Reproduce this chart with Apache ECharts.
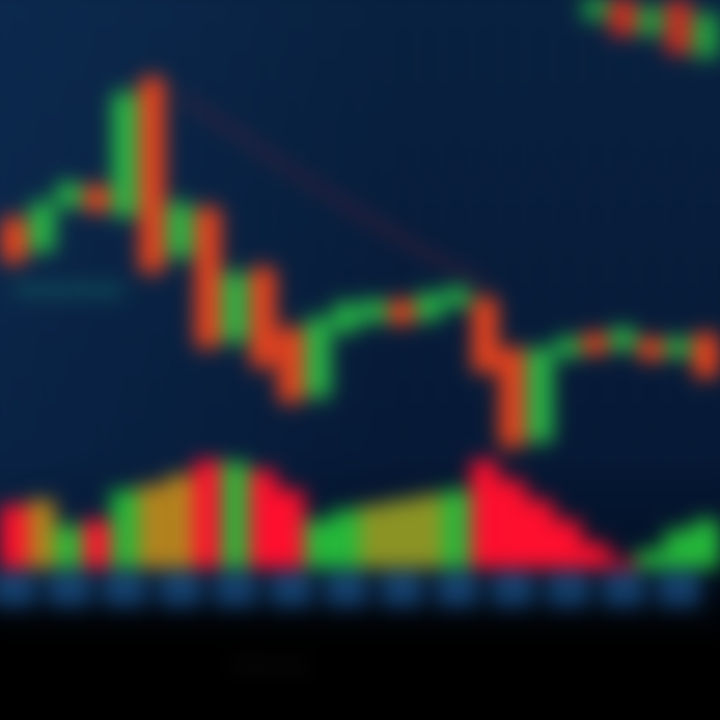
<!DOCTYPE html>
<html>
<head>
<meta charset="utf-8">
<script src="https://cdn.jsdelivr.net/npm/echarts@6/dist/echarts.min.js"></script>
<style>
  html, body { margin: 0; padding: 0; background: #000; overflow: hidden; width: 720px; height: 720px; }
  #chart { position: absolute; left: -20px; top: -20px; width: 760px; height: 760px; filter: blur(10px); }
</style>
</head>
<body>
<div id="chart"></div>
<script>
// ---- data ----
const categories = ['09:30','09:35','09:40','09:45','09:50','09:55','10:00','10:05','10:10','10:15','10:20','10:25','10:30',
                    '10:35','10:40','10:45','10:50','10:55','11:00','11:05','11:10','11:15','11:20','11:25','11:30','11:35'];
const openP  = [250,220,265,282,255,390,215,260,130,200,140, 75,140,150,168,152,165,170,120, 30,115,135,122,130,115,135];
const closeP = [210,265,285,260,375,200,265,125,195,105, 70,150,165,168,148,175,180,100, 25,120,130,118,140,112,130, 95];
const lowP   = [200,215,258,255,250,190,205,115,120, 95, 60, 65,132,143,140,145,158, 92, 15, 22,108,112,116,106,110, 88];
const highP  = [260,275,292,290,385,400,275,270,205,210,150,160,172,175,175,182,188,180,128,126,138,140,146,136,136,140];
// overlay candles visible at the top-right
const ovOpen  = [null,null,null,null,null,null,null,null,null,null,null,null,null,null,null,null,null,null,null,null,null,452,470,436,468,414];
const ovClose = [null,null,null,null,null,null,null,null,null,null,null,null,null,null,null,null,null,null,null,null,null,470,436,462,418,455];
// moving-average line
const maLine = [null,null,null,null,null,null,375,355,338,318,300,283,265,248,232,215,200,188,null,null,null,null,null,null,null,null];
const levelLine = [180,180,180,180,180,null,null,null,null,null,null,null,null,null,null,null,null,null,null,null,null,null,null,null,null,null];
// volume
const volume = [63,68,43,48,78,83,93,108,106,98,78,48,58,63,68,73,78,108,88,68,48,25,8,18,38,48];
const volState = ['down','mix','up','down','up','mix','mix','down','up','down','down','up','up','flat','flat','flat','up',
                  'down','down','down','down','down','down','up','up','up'];

// ---- build ----
const UP = '#27b544', DOWN = '#e8421c';
const volColors = { up: '#25b83a', down: '#ff0f2e', mix: '#b3821e', flat: '#8c9424' };

const candleData = categories.map((c, i) => [openP[i], closeP[i], lowP[i], highP[i]]);
const ovData = categories.map((c, i) => ovOpen[i] == null ? '-' :
  [ovOpen[i], ovClose[i], Math.min(ovOpen[i], ovClose[i]) - 4, Math.max(ovOpen[i], ovClose[i]) + 4]);
const volData = volume.map((v, i) => ({ value: v, itemStyle: { color: volColors[volState[i]] } }));

const chart = echarts.init(document.getElementById('chart'));
chart.setOption({
  animation: false,
  backgroundColor: {
    type: 'linear', x: 0, y: 0, x2: 0, y2: 1,
    colorStops: [
      { offset: 0, color: '#08203f' },
      { offset: 0.62, color: '#051834' },
      { offset: 0.76, color: '#031128' },
      { offset: 0.82, color: '#01060e' },
      { offset: 0.87, color: '#000000' },
      { offset: 1, color: '#000000' }
    ]
  },
  graphic: [
    { type: 'rect', left: 0, top: 0, z: -1, silent: true,
      shape: { width: 420, height: 620 },
      style: { fill: { type: 'linear', x: 0, y: 0, x2: 1, y2: 0,
        colorStops: [{ offset: 0, color: 'rgba(25,80,140,0.18)' }, { offset: 1, color: 'rgba(25,80,140,0)' }] } } },
    { type: 'text', left: 250, top: 675, silent: true,
      style: { text: 'Volume', fill: '#161616', font: '22px "Noto Sans"' } }
  ],
  grid: [
    { left: 20, right: 20, top: 20, height: 470 },
    { left: 20, right: 20, top: 475, height: 113 }
  ],
  xAxis: [
    { type: 'category', data: categories, gridIndex: 0, boundaryGap: true,
      axisLine: { show: false }, axisTick: { show: false }, axisLabel: { show: false },
      splitLine: { show: true, interval: 0, lineStyle: { color: 'rgba(70,120,180,0.22)', width: 2 } } },
    { type: 'category', data: categories, gridIndex: 1, boundaryGap: true,
      axisLine: { show: false }, axisTick: { show: false },
      axisLabel: { show: true, interval: 1, color: '#2a66a2', fontSize: 14, fontWeight: 'bold', margin: 2,
                   fontFamily: 'Roboto', backgroundColor: '#103760', padding: [12, 4], borderRadius: 3 },
      splitLine: { show: false } }
  ],
  yAxis: [
    { type: 'value', gridIndex: 0, min: 0, max: 470, show: false, splitLine: { show: false } },
    { type: 'value', gridIndex: 1, min: 0, max: 113, show: false, splitLine: { show: false } }
  ],
  series: [
    { type: 'line', xAxisIndex: 0, yAxisIndex: 0, data: levelLine, symbol: 'none',
      lineStyle: { color: 'rgba(20,130,115,0.5)', width: 10 }, z: 1 },
    { type: 'line', xAxisIndex: 0, yAxisIndex: 0, data: maLine, symbol: 'none', smooth: true,
      lineStyle: { color: 'rgba(150,30,45,0.5)', width: 5 }, z: 1 },
    { type: 'candlestick', xAxisIndex: 0, yAxisIndex: 0, data: candleData, barWidth: '85%',
      itemStyle: { color: UP, color0: DOWN, borderColor: UP, borderColor0: DOWN, borderWidth: 3 }, z: 3 },
    { type: 'candlestick', xAxisIndex: 0, yAxisIndex: 0, data: ovData, barWidth: '90%',
      itemStyle: { color: '#1f9a40', color0: '#c82a22', borderColor: '#1f9a40', borderColor0: '#c82a22', borderWidth: 3 }, z: 3 },
    { type: 'bar', xAxisIndex: 1, yAxisIndex: 1, data: volData, barCategoryGap: '0%' }
  ]
});
</script>
</body>
</html>
